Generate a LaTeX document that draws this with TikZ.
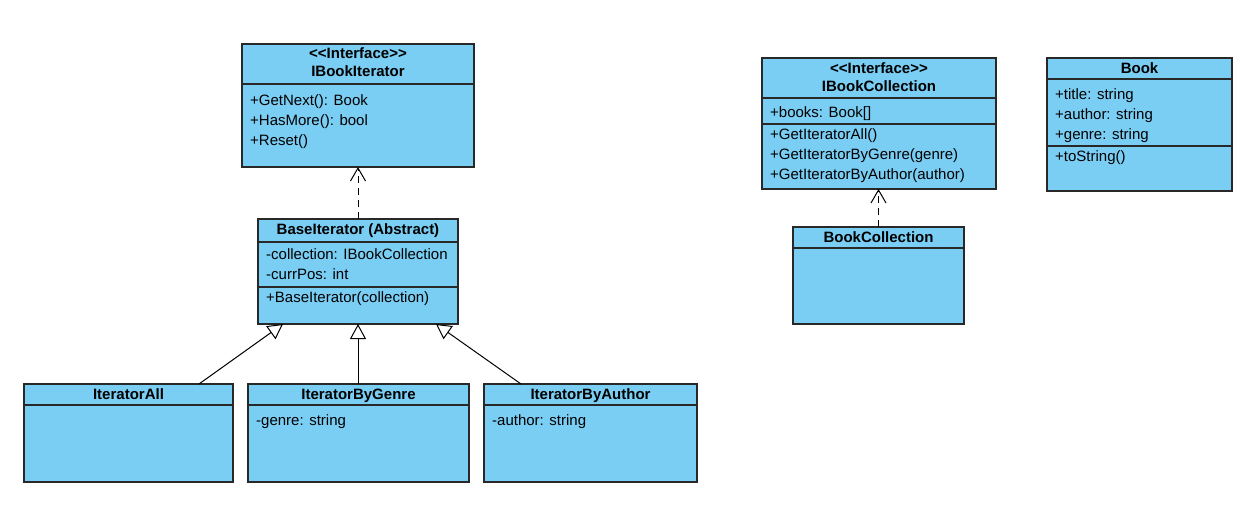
\documentclass[tikz,border=0pt]{standalone}
\usepackage{fontspec}
\setmainfont{Liberation Sans}
\usetikzlibrary{arrows.meta}
\definecolor{classfill}{RGB}{122,206,244}
\definecolor{classline}{RGB}{40,40,40}
\newcommand{\stereo}{{<}{<}Interface{>}{>}}
\begin{document}
\begin{tikzpicture}[x=1pt,y=-1pt,
  classbox/.style={draw=classline, line width=1.3pt, fill=classfill, rectangle,
    anchor=north west, inner sep=0pt, outer sep=0pt},
  sepline/.style={draw=classline, line width=1.3pt},
  member/.style={anchor=base west, inner sep=0pt, font=\fontsize{15}{20}\selectfont},
  title/.style={anchor=base, inner sep=0pt, font=\fontsize{15}{20}\selectfont\bfseries},
  realize/.style={draw=black, line width=1pt, dash pattern=on 7pt off 5pt,
    -{Straight Barb[length=13pt,width=15pt,line width=1pt]}},
  inherit/.style={draw=black, line width=1pt,
    -{Triangle[open,length=15pt,width=16pt,line width=1pt,fill=white]}}]
\useasboundingbox (0,0) rectangle (1259,514);

% IBookIterator
\node[classbox, minimum width=232pt, minimum height=123pt] (ibi) at (242,44) {};
\draw[sepline] (242,84) -- (474,84);
\node[title] (ibiS) at (358,58) {\stereo};
\node[title] (ibiT) at (358,76) {IBookIterator};
\node[member] (ibiA) at (250,105) {+GetNext(): Book};
\node[member] (ibiB) at (250,125) {+HasMore(): bool};
\node[member] (ibiC) at (250,145) {+Reset()};

% BaseIterator
\node[classbox, minimum width=200pt, minimum height=105pt] (base) at (258,219) {};
\draw[sepline] (258,242) -- (458,242);
\draw[sepline] (258,287) -- (458,287);
\node[title] (baseT) at (358,234) {BaseIterator (Abstract)};
\node[member] (baseA) at (266,259) {-collection: IBookCollection};
\node[member] (baseB) at (266,279) {-currPos: int};
\node[member] (baseC) at (266,302) {+BaseIterator(collection)};

% concrete iterators
\node[classbox, minimum width=209pt, minimum height=98pt] (all) at (24,384) {};
\draw[sepline] (24,405) -- (233,405);
\node[title] (allT) at (128.5,399) {IteratorAll};

\node[classbox, minimum width=221pt, minimum height=98pt] (gen) at (248,384) {};
\draw[sepline] (248,405) -- (469,405);
\node[title] (genT) at (358.5,399) {IteratorByGenre};
\node[member] (genA) at (256,425) {-genre: string};

\node[classbox, minimum width=213pt, minimum height=98pt] (auth) at (484,384) {};
\draw[sepline] (484,405) -- (697,405);
\node[title] (authT) at (590.5,399) {IteratorByAuthor};
\node[member] (authA) at (492,425) {-author: string};

% IBookCollection
\node[classbox, minimum width=234pt, minimum height=131pt] (ibc) at (762,58) {};
\draw[sepline] (762,98) -- (996,98);
\draw[sepline] (762,124) -- (996,124);
\node[title] (ibcS) at (879,73) {\stereo};
\node[title] (ibcT) at (879,91) {IBookCollection};
\node[member] (ibcA) at (770,117) {+books: Book[]};
\node[member] (ibcB) at (770,139) {+GetIteratorAll()};
\node[member] (ibcC) at (770,159) {+GetIteratorByGenre(genre)};
\node[member] (ibcD) at (770,179) {+GetIteratorByAuthor(author)};

% Book
\node[classbox, minimum width=185pt, minimum height=133pt] (book) at (1047,58) {};
\draw[sepline] (1047,79) -- (1232,79);
\draw[sepline] (1047,146) -- (1232,146);
\node[title] (bookT) at (1139.5,73) {Book};
\node[member] (bookA) at (1055,99) {+title: string};
\node[member] (bookB) at (1055,119) {+author: string};
\node[member] (bookC) at (1055,139) {+genre: string};
\node[member] (bookD) at (1055,161) {+toString()};

% BookCollection
\node[classbox, minimum width=171pt, minimum height=97pt] (bc) at (793,227) {};
\draw[sepline] (793,248) -- (964,248);
\node[title] (bcT) at (878.5,242) {BookCollection};

% relations
\draw[realize] (base.north) -- (ibi.south);
\draw[realize] (bc.north) -- (bc.north |- ibc.south);
\draw[inherit] ([xshift=175pt]all.north west) -- ([xshift=25pt]base.south west);
\draw[inherit] (gen.north -| base.south) -- (base.south);
\draw[inherit] ([xshift=37pt]auth.north west) -- ([xshift=-22pt]base.south east);
\end{tikzpicture}
\end{document}
